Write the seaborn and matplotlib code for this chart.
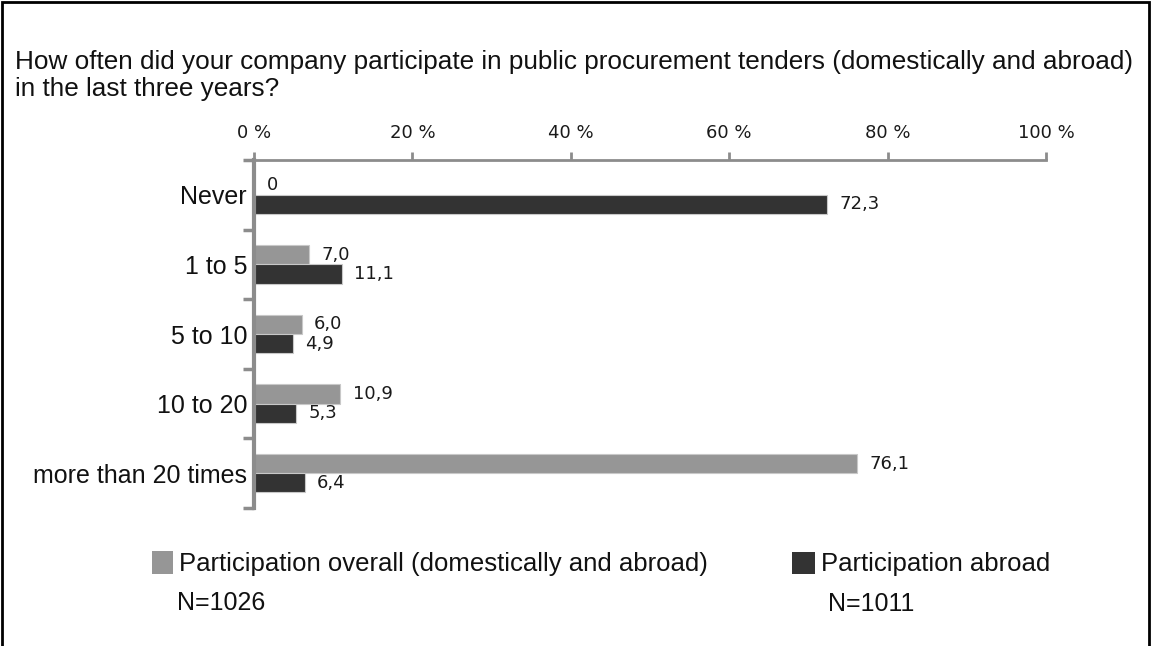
import pandas as pd
import matplotlib
matplotlib.use('Agg')
import matplotlib.pyplot as plt
from matplotlib.patches import Rectangle
from matplotlib.ticker import FixedLocator
import seaborn as sns

# chart data
categories = ['Never', '1 to 5', '5 to 10', '10 to 20', 'more than 20 times']
overall = [0, 7.0, 6.0, 10.9, 76.1]
abroad = [72.3, 11.1, 4.9, 5.3, 6.4]
series_names = ['Participation overall (domestically and abroad)', 'Participation abroad']
sample_sizes = ['N=1026', 'N=1011']
x_ticks = [0, 20, 40, 60, 80, 100]
x_tick_labels = ['0 %', '20 %', '40 %', '60 %', '80 %', '100 %']
title = ('How often did your company participate in public procurement tenders (domestically and abroad)\n'
         'in the last three years?')

GRAY = '#969696'
DARK = '#333333'
AXIS = '#8c8c8c'


def build_frame():
    rows = []
    for name, vals in zip(series_names, [overall, abroad]):
        for cat, v in zip(categories, vals):
            rows.append({'category': cat, 'value': v, 'series': name})
    return pd.DataFrame(rows)


def fmt(v):
    return '0' if v == 0 else f'{v:.1f}'.replace('.', ',')


df = build_frame()

sns.set_style('white')
plt.rcParams['font.family'] = ['Liberation Sans', 'DejaVu Sans']

fig = plt.figure(figsize=(11.51, 6.46), dpi=100)
ax = fig.add_axes([254 / 1151, 1 - 508 / 646, 792 / 1151, 348 / 646])

sns.barplot(data=df, y='category', x='value', hue='series', hue_order=series_names,
            order=categories, orient='h', palette=[GRAY, DARK], saturation=1,
            width=0.55, edgecolor='#c8c8c8', linewidth=0.8, legend=False, ax=ax)

# value labels
for cont, vals in zip(ax.containers, [overall, abroad]):
    ax.bar_label(cont, labels=[fmt(v) for v in vals], padding=9,
                 fontsize=13, family='DejaVu Sans', color='#1a1a1a')

ax.set_xlim(0, 100)
ax.set_ylim(len(categories) - 0.5, -0.5)
ax.set_xlabel('')
ax.set_ylabel('')

# x axis on top
ax.xaxis.tick_top()
ax.set_xticks(x_ticks)
ax.set_xticklabels(x_tick_labels, family='DejaVu Sans', fontsize=13, color='#1a1a1a')
ax.tick_params(axis='x', direction='out', length=6, width=2, color=AXIS, pad=7)

# category labels, tick marks between categories
ax.set_yticks(range(len(categories)))
ax.set_yticklabels(categories, fontsize=18, color='#111111')
ax.tick_params(axis='y', which='major', length=0, pad=5)
ax.yaxis.set_minor_locator(FixedLocator([i - 0.5 for i in range(len(categories) + 1)]))
ax.tick_params(axis='y', which='minor', direction='out', length=8, width=2.5, color=AXIS, left=True)
for lbl in ax.get_yticklabels():
    lbl.set_y(lbl.get_position()[1])

for side in ['bottom', 'right']:
    ax.spines[side].set_visible(False)
ax.spines['top'].set_color(AXIS)
ax.spines['top'].set_linewidth(2)
ax.spines['left'].set_color(AXIS)
ax.spines['left'].set_linewidth(3)
ax.grid(False)

# title
fig.text(15 / 1151, 1 - 50 / 646, title, fontsize=18.85, ha='left', va='top',
         linespacing=1.17, color='#111111')

# legend
W, H = 1151, 646
for (x0, y0, w, h), color, name, n, nx in [((152, 551, 21, 23), GRAY, series_names[0], sample_sizes[0], 177),
                                        ((792, 552, 23, 22), DARK, series_names[1], sample_sizes[1], 828)]:
    fig.add_artist(Rectangle((x0 / W, 1 - (y0 + h) / H), w / W, h / H,
                             transform=fig.transFigure, color=color, lw=0))
    fig.text((x0 + w + 6) / W, 1 - (y0 + h / 2 + 1) / H, name, fontsize=18.5,
             ha='left', va='center', color='#111111')
    fig.text(nx / W, 1 - (y0 + 52) / H, n, fontsize=18, ha='left', va='center', color='#111111')

# outer frame
fig.add_artist(Rectangle((1.5 / W, -0.05), 1 - 3.5 / W, 1.05 - 1.5 / H,
                         transform=fig.transFigure, fill=False, lw=2, color='black'))

fig.savefig('out.png', dpi=100)
